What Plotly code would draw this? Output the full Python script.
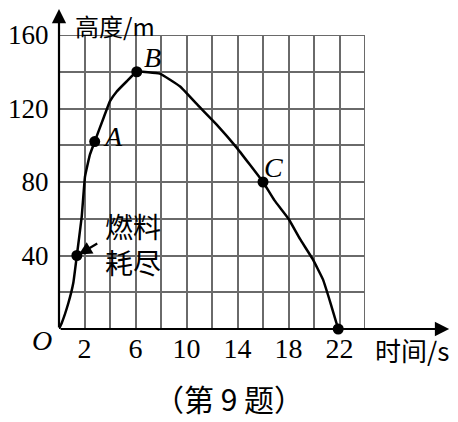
import plotly.graph_objects as go

# ---- data ----
time_s = [0, 0.2, 0.73, 1.12, 1.4, 1.78, 2.04, 2.43, 2.8, 3.5, 4, 4.5, 5.3, 6.1, 7.9,
          9.5, 11, 12.4, 13.9, 16, 16.9, 18, 18.9, 19.9, 20.7, 21.3, 21.9]
height_m = [0, 3, 14, 25, 40, 61, 83, 95, 102, 115, 124, 129, 134.7, 140, 139,
            132, 121, 111, 99, 80, 70, 60, 49, 38, 27, 14, 0]

point_t = [1.4, 2.8, 6.1, 16, 21.9]
point_h = [40, 102, 140, 80, 0]

x_tickvals = [2, 6, 10, 14, 18, 22]
x_ticktext = ["2", "6", "10", "14", "18", "22"]
y_tickvals = [40, 80, 120, 160]
y_ticktext = ["40", "80", "120", "160"]

SERIF = "Liberation Serif"
CJK = "Noto Sans CJK SC"
GRID = "#6a6a6a"

fig = go.Figure()
fig.add_trace(go.Scatter(x=time_s, y=height_m, mode="lines",
                         line=dict(color="black", width=2.5, shape="spline", smoothing=0.3),
                         hoverinfo="skip", cliponaxis=False))
fig.add_trace(go.Scatter(x=point_t, y=point_h, mode="markers",
                         marker=dict(color="black", size=11), cliponaxis=False))

# page body has an 8px margin: size/margins compensate so the plot area lands
# at page x 59..365, y 35..329
fig.update_layout(
    width=450, height=414,
    margin=dict(l=51, r=93, t=27, b=93),
    paper_bgcolor="white", plot_bgcolor="white",
    showlegend=False,
    xaxis=dict(range=[0, 24], tickvals=x_tickvals, ticktext=x_ticktext,
               automargin=False,
               showgrid=True, gridcolor=GRID, gridwidth=2,
               minor=dict(dtick=2, tick0=0, showgrid=True, gridcolor=GRID, gridwidth=2),
               zeroline=False, showline=False, ticks="", ticklen=0,
               tickfont=dict(family=SERIF, size=28, color="black")),
    yaxis=dict(range=[0, 160], tickvals=y_tickvals, ticktext=y_ticktext,
               automargin=False,
               showgrid=True, gridcolor=GRID, gridwidth=2,
               minor=dict(dtick=20, tick0=0, showgrid=True, gridcolor=GRID, gridwidth=2),
               zeroline=False, showline=False, ticks="outside", ticklen=4,
               tickcolor="rgba(0,0,0,0)",
               tickfont=dict(family=SERIF, size=27, color="black")),
)

# right / top grid edges
fig.add_shape(type="line", xref="x", yref="y", x0=24, x1=24, y0=0, y1=160,
              line=dict(color=GRID, width=2))
fig.add_shape(type="line", xref="x", yref="y", x0=0, x1=24, y0=160, y1=160,
              line=dict(color=GRID, width=2))

# axes with arrows
fig.add_annotation(x=1.275, y=0, xref="paper", yref="paper", ax=-390, ay=0,
                   axref="pixel", ayref="pixel", text="", showarrow=True,
                   arrowhead=2, arrowsize=1.3, arrowwidth=2.2, arrowcolor="black")
fig.add_annotation(x=0, y=1.092, xref="paper", yref="paper", ax=0, ay=321,
                   text="", showarrow=True,
                   arrowhead=2, arrowsize=1.3, arrowwidth=2.2, arrowcolor="black")

# labels
def label(x, y, text, font, ref="paper", size=26):
    fig.add_annotation(x=x, y=y, xref=ref, yref=ref, text=text, showarrow=False,
                       xanchor="center", yanchor="middle",
                       font=dict(family=font, size=size, color="black"))

label(0.183, 1.034, "高度/m", CJK + ", " + SERIF, size=24)
label(1.1536, -0.0714, "时间/s", CJK + ", " + SERIF, size=26)
label(-0.0556, -0.0408, "<i>O</i>", SERIF, size=28)
label(0.557, -0.2347, "（第 9 题）", CJK, size=30)

fig.add_annotation(x=4.24, y=104.5, xref="x", yref="y", text="<i>A</i>", showarrow=False,
                   font=dict(family=SERIF, size=28, color="black"))
fig.add_annotation(x=7.37, y=147.5, xref="x", yref="y", text="<i>B</i>", showarrow=False,
                   font=dict(family=SERIF, size=28, color="black"))
fig.add_annotation(x=16.8, y=88, xref="x", yref="y", text="<i>C</i>", showarrow=False,
                   font=dict(family=SERIF, size=28, color="black"))
fig.add_annotation(x=5.8, y=46, xref="x", yref="y", text="燃料<br>耗尽", showarrow=False,
                   font=dict(family=CJK, size=28, color="black"))
fig.add_annotation(x=1.55, y=40.5, xref="x", yref="y", ax=20, ay=-12,
                   axref="pixel", ayref="pixel", text="", showarrow=True,
                   arrowhead=2, arrowsize=1.2, arrowwidth=2.2, arrowcolor="black")

fig.write_html("out.html")
